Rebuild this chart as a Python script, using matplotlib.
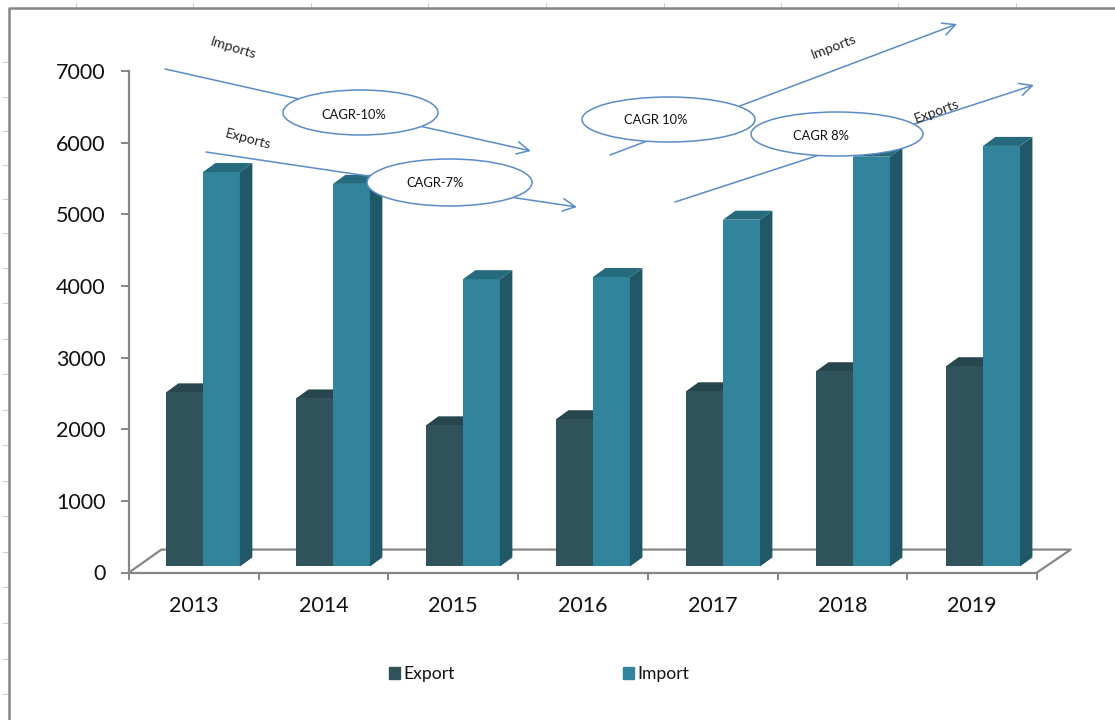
import matplotlib
matplotlib.use('Agg')
import matplotlib.pyplot as plt
from matplotlib.patches import Ellipse, Patch

plt.rcParams['font.family'] = ['Lato', 'DejaVu Sans']

years = ['2013', '2014', '2015', '2016', '2017', '2018', '2019']
export_values = [2430, 2345, 1970, 2055, 2445, 2725, 2795]
import_values = [5505, 5340, 4010, 4040, 4840, 5720, 5870]
y_ticks = [0, 1000, 2000, 3000, 4000, 5000, 6000, 7000]

# callouts drawn on top of the chart, in image pixels
ovals = [('CAGR-10%', 283, 438, 90, 135, 354, 115),
         ('CAGR-7%', 367, 532, 159, 206, 435, 183),
         ('CAGR 10%', 582, 755, 97, 142, 656, 120),
         ('CAGR 8%', 751, 923, 112, 156, 821, 136)]
trend_arrows = [(165, 69, 531, 151), (206, 152, 577, 207), (610, 155, 957, 24), (675, 202, 1034, 85)]
trend_labels = [('Imports', 233, 48, -17), ('Exports', 248, 139, -15), ('Imports', 834, 47, 21), ('Exports', 937, 111, 20)]
ruler_top = [76, 193, 311, 428, 546, 664, 781, 898, 1016]
ruler_left = [62, 97, 131, 165, 199, 233, 268, 303, 339, 374, 410, 445, 481, 516, 552, 587, 623, 659, 694]

W, H = 1115, 720
grey = '#868686'
export_front, export_top = '#30535b', '#28464d'
import_front, import_side, import_top = '#31849b', '#205867', '#266b7d'
line_blue = '#5b8bc6'

fig = plt.figure(figsize=(W / 100, H / 100), dpi=100, facecolor='white')
ax = fig.add_axes([129 / W, 1 - 572.5 / H, (1037 - 129) / W, (572.5 - 71) / H])
ax.set_xlim(0, 7)
ax.set_ylim(0, 7000)

# fake 3d depth of the excel chart
base = 84
dx, dy = 0.096, 126
bar_w = 0.285
bar_off = 0.285
group_step = 1.0023

# floor
ax.plot([0, 0.25, 7.26, 7], [0, 320, 320, 0], color=grey, lw=1.6, clip_on=False, zorder=1)

for i in range(len(years)):
    x0 = i * group_step + bar_off
    x1 = x0 + bar_w
    x2 = x1 + bar_w
    t1 = base + export_values[i]
    t2 = base + import_values[i]
    ax.bar(x0, export_values[i], bar_w, bottom=base, align='edge', color=export_front, zorder=3, label='Export' if i == 0 else None)
    ax.fill([x0, x0 + dx, x1 + dx, x1], [t1, t1 + dy, t1 + dy, t1], color=export_top, lw=0, zorder=2)
    ax.bar(x1, import_values[i], bar_w, bottom=base, align='edge', color=import_front, zorder=3, label='Import' if i == 0 else None)
    ax.fill([x2, x2 + dx, x2 + dx, x2], [base, base + dy, t2 + dy, t2], color=import_side, lw=0, zorder=3)
    ax.fill([x1, x1 + dx, x2 + dx, x2], [t2, t2 + dy, t2 + dy, t2], color=import_top, lw=0, zorder=3)

ax.spines['top'].set_visible(False)
ax.spines['right'].set_visible(False)
ax.spines['left'].set_color(grey)
ax.spines['bottom'].set_color(grey)
ax.spines['left'].set_linewidth(1.6)
ax.spines['bottom'].set_linewidth(1.6)
ax.set_yticks(y_ticks)
ax.tick_params(axis='y', labelsize=15.5, length=6, width=1.4, color=grey, pad=11, labelcolor='#111111')
ax.set_xticks(range(8))
ax.set_xticklabels([])
ax.set_xticks([i + 0.5 for i in range(7)], minor=True)
ax.set_xticklabels(years, minor=True)
ax.tick_params(axis='x', which='major', length=5, width=1.4, color=grey)
ax.tick_params(axis='x', which='minor', length=0, labelsize=15.5, pad=17, labelcolor='#111111')

handles = [Patch(color=export_front, label='Export'), Patch(color=import_front, label='Import')]
fig.legend(handles=handles, loc='center', bbox_to_anchor=(539 / W, 1 - 674 / H), ncol=2, frameon=False,
           fontsize=12.6, handlelength=0.65, handleheight=0.65, handletextpad=0.2, columnspacing=9.6, borderpad=0,
           labelcolor='#111111')

# overlay in pixels for the callouts and the window frame
over = fig.add_axes([0, 0, 1, 1], zorder=5)
over.set_xlim(0, W)
over.set_ylim(H, 0)
over.axis('off')
over.patch.set_alpha(0)

for x in ruler_top:
    over.plot([x, x], [3, 7], color='#d0d0d0', lw=0.8)
for y in ruler_left:
    over.plot([3, 9], [y, y], color='#d0d0d0', lw=0.8)
over.plot([9, 9, W], [H, 8, 8], color='#858585', lw=1.8)

for x1, y1, x2, y2 in trend_arrows:
    over.annotate('', xy=(x2, y2), xytext=(x1, y1), zorder=6,
                  arrowprops=dict(arrowstyle='->,head_length=0.9,head_width=0.45', color=line_blue, lw=1.1,
                                  shrinkA=0, shrinkB=0))
for label, x1, x2, y1, y2, tx, ty in ovals:
    over.add_patch(Ellipse(((x1 + x2) / 2, (y1 + y2) / 2), x2 - x1, y2 - y1, facecolor='white',
                           edgecolor=line_blue, lw=1.1, zorder=7))
    over.text(tx, ty, label, fontsize=9.3, ha='center', va='center', color='#111111', zorder=8)
for label, x, y, rot in trend_labels:
    over.text(x, y, label, fontsize=10.2, ha='center', va='center', rotation=rot, rotation_mode='anchor',
              color='#222222', zorder=8)

fig.savefig('out.png', dpi=100)
